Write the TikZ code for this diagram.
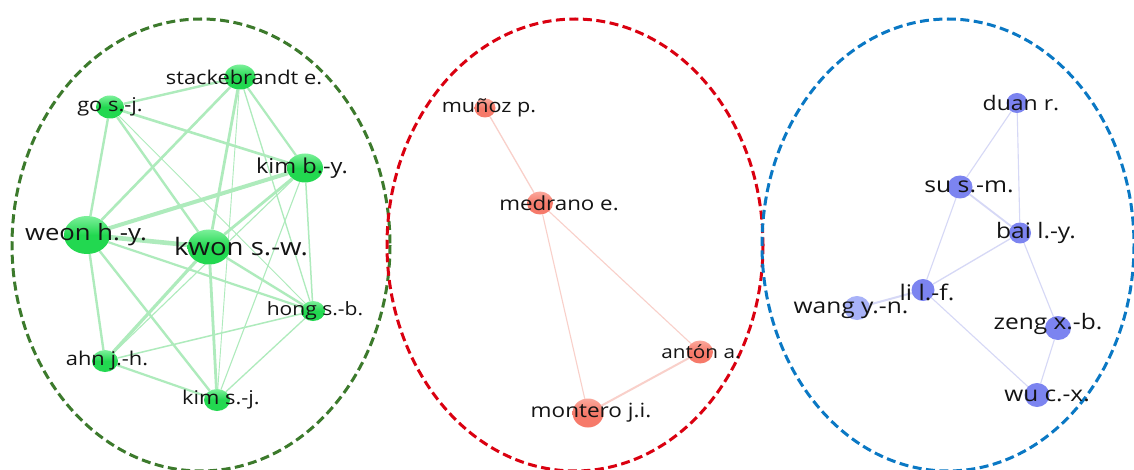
\documentclass[tikz,border=0pt]{standalone}
\usepackage{fontspec}
\setmainfont{Open Sans}[FakeStretch=1.15]
\usetikzlibrary{shapes.geometric}
\pgfdeclarelayer{backdrop}
\pgfdeclarelayer{edges}
\pgfsetlayers{backdrop,edges,main}

\definecolor{gnode}{HTML}{22D850}
\definecolor{gnodelt}{HTML}{7CF09A}
\definecolor{gedge}{HTML}{AEEBBC}
\definecolor{rnode}{HTML}{F67A6A}
\definecolor{rnodelt}{HTML}{FBA89C}
\definecolor{redge}{HTML}{F9D0CA}
\definecolor{bnode}{HTML}{7C84F0}
\definecolor{bnodelt}{HTML}{A8B2F8}
\definecolor{bedge}{HTML}{D6D8F6}
\definecolor{gring}{HTML}{3C7A2C}
\definecolor{rring}{HTML}{DA0010}
\definecolor{bring}{HTML}{0A78C4}
\definecolor{lbltext}{HTML}{141414}

\tikzset{
  x=1pt, y=-1pt,
  ring/.style={draw=#1, line width=3pt, dash pattern=on 9pt off 4.5pt},
  author/.style={ellipse, inner sep=0pt, draw=none},
  gauthor/.style={author, top color=gnodelt, bottom color=gnode, middle color=gnode},
  rauthor/.style={author, top color=rnodelt, bottom color=rnode, middle color=rnode},
  bauthor/.style={author, fill=bnode},
  lbl/.style={inner sep=0pt, text=lbltext, font=\fontsize{#1}{#1}\selectfont},
  glink/.style={draw=gedge, line width=#1},
  rlink/.style={draw=redge, line width=#1},
  blink/.style={draw=bedge, line width=#1},
}

\begin{document}
\begin{tikzpicture}
\useasboundingbox (0,0) rectangle (1134,470);
\begin{pgfonlayer}{backdrop}
\fill[white] (0,0) rectangle (1134,470);
\end{pgfonlayer}

% cluster outlines
\draw[ring=gring] (201,245) ellipse [x radius=189, y radius=226];
\draw[ring=rring] (575,245) ellipse [x radius=188, y radius=226];
\draw[ring=bring] (948,245) ellipse [x radius=186, y radius=226];

% ---- green cluster ----
\node[gauthor, minimum width=31, minimum height=25] (stack) at (240,77) {};
\node[gauthor, minimum width=28, minimum height=23] (go) at (110,107) {};
\node[gauthor, minimum width=36, minimum height=29] (kimb) at (305,168) {};
\node[gauthor, minimum width=46, minimum height=38] (weon) at (87,235) {};
\node[gauthor, minimum width=43, minimum height=35] (kwon) at (209,247) {};
\node[gauthor, minimum width=24, minimum height=20] (hong) at (313,311) {};
\node[gauthor, minimum width=26, minimum height=22] (ahn) at (105,361) {};
\node[gauthor, minimum width=26, minimum height=22] (kims) at (217,400) {};

\begin{pgfonlayer}{edges}
\draw[glink=2.4pt] (stack) -- (go);
\draw[glink=2.6pt] (stack) -- (weon);
\draw[glink=2.8pt] (stack) -- (kwon);
\draw[glink=2.2pt] (stack) -- (kimb);
\draw[glink=1.3pt] (stack) -- (hong);
\draw[glink=0.9pt] (stack) -- (kims);
\draw[glink=2.4pt] (go) -- (weon);
\draw[glink=2.6pt] (go) -- (kimb);
\draw[glink=2.4pt] (go) -- (kwon);
\draw[glink=0.9pt] (go) -- (hong);
\draw[glink=4pt] (weon) -- (kimb);
\draw[glink=4.6pt] (weon) -- (kwon);
\draw[glink=2.2pt] (weon) -- (hong);
\draw[glink=2.4pt] (weon) -- (ahn);
\draw[glink=2.4pt] (weon) -- (kims);
\draw[glink=2.8pt] (kwon) -- (kimb);
\draw[glink=2.4pt] (kwon) -- (hong);
\draw[glink=3.2pt] (kwon) -- (ahn);
\draw[glink=2.8pt] (kwon) -- (kims);
\draw[glink=1.5pt] (kimb) -- (hong);
\draw[glink=1.1pt] (kimb) -- (ahn);
\draw[glink=1.1pt] (kimb) -- (kims);
\draw[glink=1.5pt] (hong) -- (ahn);
\draw[glink=1.3pt] (hong) -- (kims);
\draw[glink=2.2pt] (ahn) -- (kims);
\end{pgfonlayer}

\node[lbl=19] at (244,77) {stackebrandt e.};
\node[lbl=19] at (110,107) {go s.-j.};
\node[lbl=20.5] at (302,168) {kim b.-y.};
\node[lbl=22.3] at (86,235) {weon h.-y.};
\node[lbl=24] at (241,247) {kwon s.-w.};
\node[lbl=18.3] at (315,311) {hong s.-b.};
\node[lbl=19] at (107,361) {ahn j.-h.};
\node[lbl=19] at (221,400) {kim s.-j.};

% ---- red cluster ----
\node[rauthor, minimum width=21, minimum height=19] (munoz) at (485,108) {};
\node[rauthor, minimum width=26, minimum height=23] (medrano) at (540,203) {};
\node[rauthor, minimum width=26, minimum height=23] (anton) at (700,352) {};
\node[rauthor, minimum width=31, minimum height=29] (montero) at (588,413) {};

\begin{pgfonlayer}{edges}
\draw[rlink=1.3pt] (munoz) -- (medrano);
\draw[rlink=1.1pt] (medrano) -- (montero);
\draw[rlink=1.1pt] (medrano) -- (anton);
\draw[rlink=2pt] (anton) -- (montero);
\end{pgfonlayer}

\node[lbl=18.8] at (489,108) {muñoz p.};
\node[lbl=19.4] at (559,203) {medrano e.};
\node[lbl=18] at (701,352) {antón a.};
\node[lbl=19.6] at (591,413) {montero j.i.};

% ---- blue cluster ----
\node[bauthor, minimum width=21, minimum height=20] (duan) at (1017,103) {};
\node[bauthor, minimum width=25, minimum height=23] (su) at (960,187) {};
\node[bauthor, minimum width=22, minimum height=21] (bai) at (1020,233) {};
\node[bauthor, minimum width=23, minimum height=22] (li) at (923,290) {};
\node[author, fill=bnodelt, minimum width=26, minimum height=24] (wang) at (857,308) {};
\node[bauthor, minimum width=26, minimum height=24] (zeng) at (1058,328) {};
\node[bauthor, minimum width=25, minimum height=24] (wu) at (1037,395) {};

\begin{pgfonlayer}{edges}
\draw[blink=1.1pt] (duan) -- (su);
\draw[blink=1.1pt] (duan) -- (bai);
\draw[blink=1.8pt] (su) -- (bai);
\draw[blink=1.1pt] (su) -- (li);
\draw[blink=1.3pt] (bai) -- (li);
\draw[blink=1.1pt] (bai) -- (zeng);
\draw[blink=2pt] (li) -- (wang);
\draw[blink=1.1pt] (li) -- (wu);
\draw[blink=1.1pt] (zeng) -- (wu);
\end{pgfonlayer}

\node[lbl=20] at (1021,103) {duan r.};
\node[lbl=21.5] at (969,187) {su s.-m.};
\node[lbl=21.3] at (1036,233) {bai l.-y.};
\node[lbl=21.5] at (927,292) {li l.-f.};
\node[lbl=21.3] at (851,310) {wang y.-n.};
\node[lbl=21.3] at (1048,324) {zeng x.-b.};
\node[lbl=21.2] at (1047,396) {wu c.-x.};
\end{tikzpicture}
\end{document}
